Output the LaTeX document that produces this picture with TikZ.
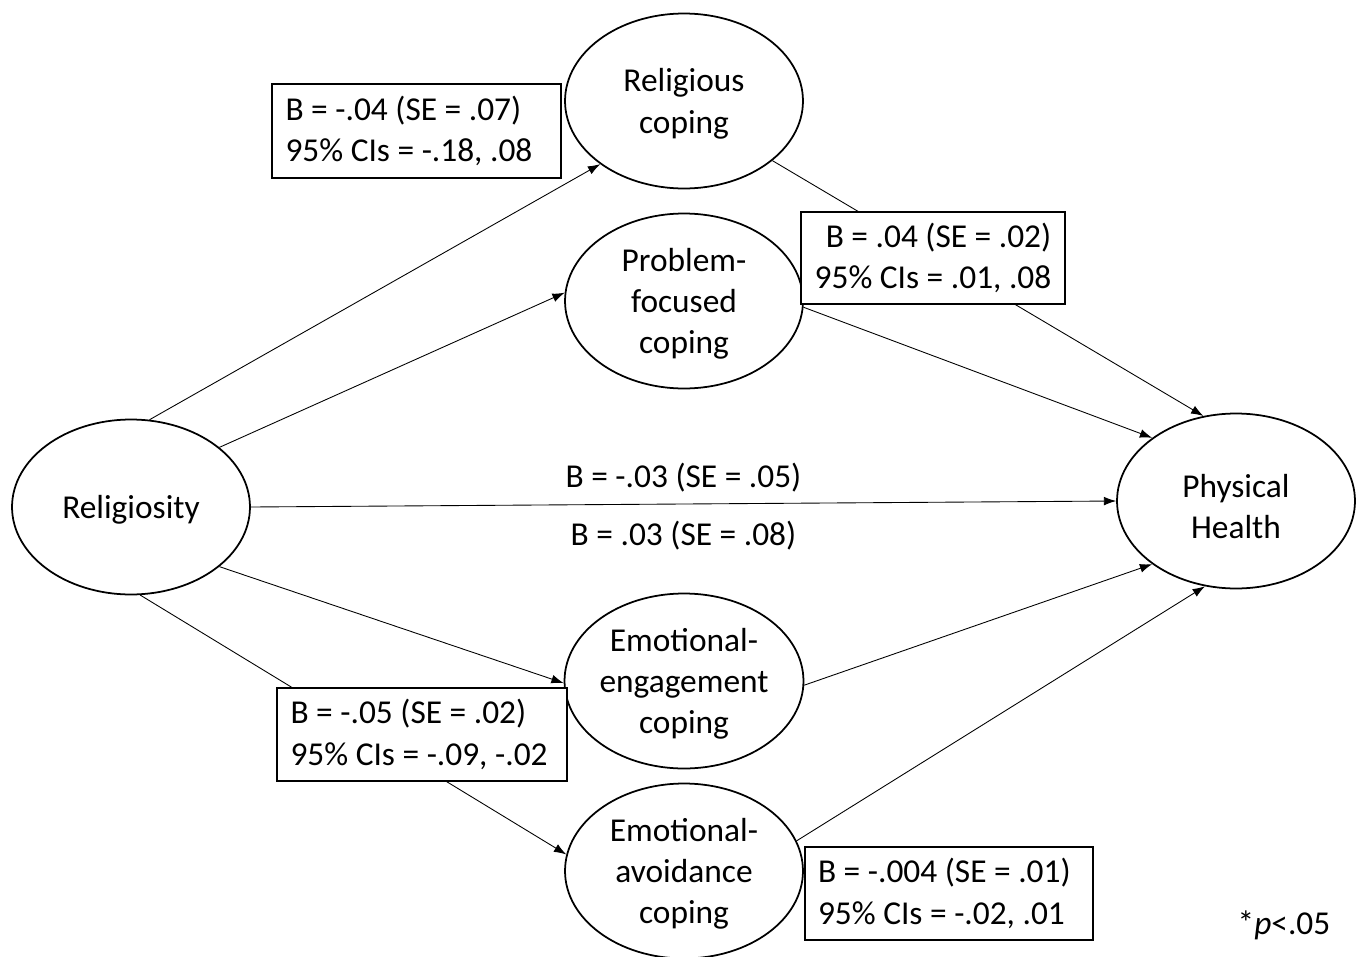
\documentclass[tikz,border=0pt]{standalone}
\usepackage{fontspec}
\setmainfont{Carlito}
\usepackage{tikz}
\usetikzlibrary{arrows,arrows.meta,shapes,positioning}

\begin{document}
\begin{tikzpicture}[x=0.02cm,y=-0.02cm,->,>={Latex[length=7pt,width=5pt]},
  every node/.style={font=\fontsize{19}{23.5}\selectfont}]
    \tikzstyle{var}=[ellipse, draw, line width=1pt, minimum width=4.76cm, minimum height=3.5cm, inner sep=0pt, align=center, text depth=0pt]
    \tikzstyle{est}=[rectangle, draw, line width=1pt, fill=white, inner xsep=0.27cm, inner ysep=0pt, align=flush left]
    \tikzstyle{path}=[line width=0.5pt]

    \useasboundingbox (0,0) rectangle (1357,957);

    % variables
    \node[var] (relig)   at (131,507) {Religiosity};
    \node[var] (relcope) at (684,101) {Religious\\coping};
    \node[var] (probcope) at (684,301) {Problem-\\focused\\coping};
    \node[var] (engcope) at (684,681) {Emotional-\\engagement\\coping};
    \node[var] (avcope)  at (684,871) {Emotional-\\avoidance\\coping};
    \node[var] (health)  at (1236,501) {\rule{0pt}{0.68cm}Physical\\Health};

    % paths
    \draw[path] (relig.78) -- (relcope.217);
    \draw[path] (relig.34) -- (probcope.176);
    \draw[path] (relig.east) -- node[above=0.12cm] (direct) {B = -.03 (SE = .05)}
                                node[below=0.22cm] (total) {B = .03 (SE = .08)} (health.west);
    \draw[path] (relig.-34) -- (engcope.181);
    \draw[path] (relig.-84) -- (avcope.172);
    \draw[path] (relcope.-34) -- (health.111);
    \draw[path] (probcope.-3) -- (health.143);
    \draw[path] (engcope.-2) -- (health.217);
    \draw[path] (avcope.15) -- (health.250);

    % indirect effects
    \node[est, text width=5.24cm, minimum height=1.88cm] (ind1) at (416.5,131)
      {B = -.04 (SE = .07)\\95\% CIs = -.18, .08};
    \node[est, align=center, inner xsep=0pt, minimum width=5.28cm, minimum height=1.84cm] (ind2) at (933,258)
      {\,\,B = .04 (SE = .02)\\95\% CIs = .01, .08};
    \node[est, text width=5.26cm, minimum height=1.86cm] (ind3) at (422,734.5)
      {B = -.05 (SE = .02)\\95\% CIs = -.09, -.02};
    \node[est, inner xsep=0.26cm, text width=5.24cm, minimum height=1.86cm] (ind4) at (949,893.5)
      {B = -.004 (SE = .01)\\95\% CIs = -.02, .01};

    \node (sig) at (1284,925) {*\textit{p}<.05};
\end{tikzpicture}
\end{document}
